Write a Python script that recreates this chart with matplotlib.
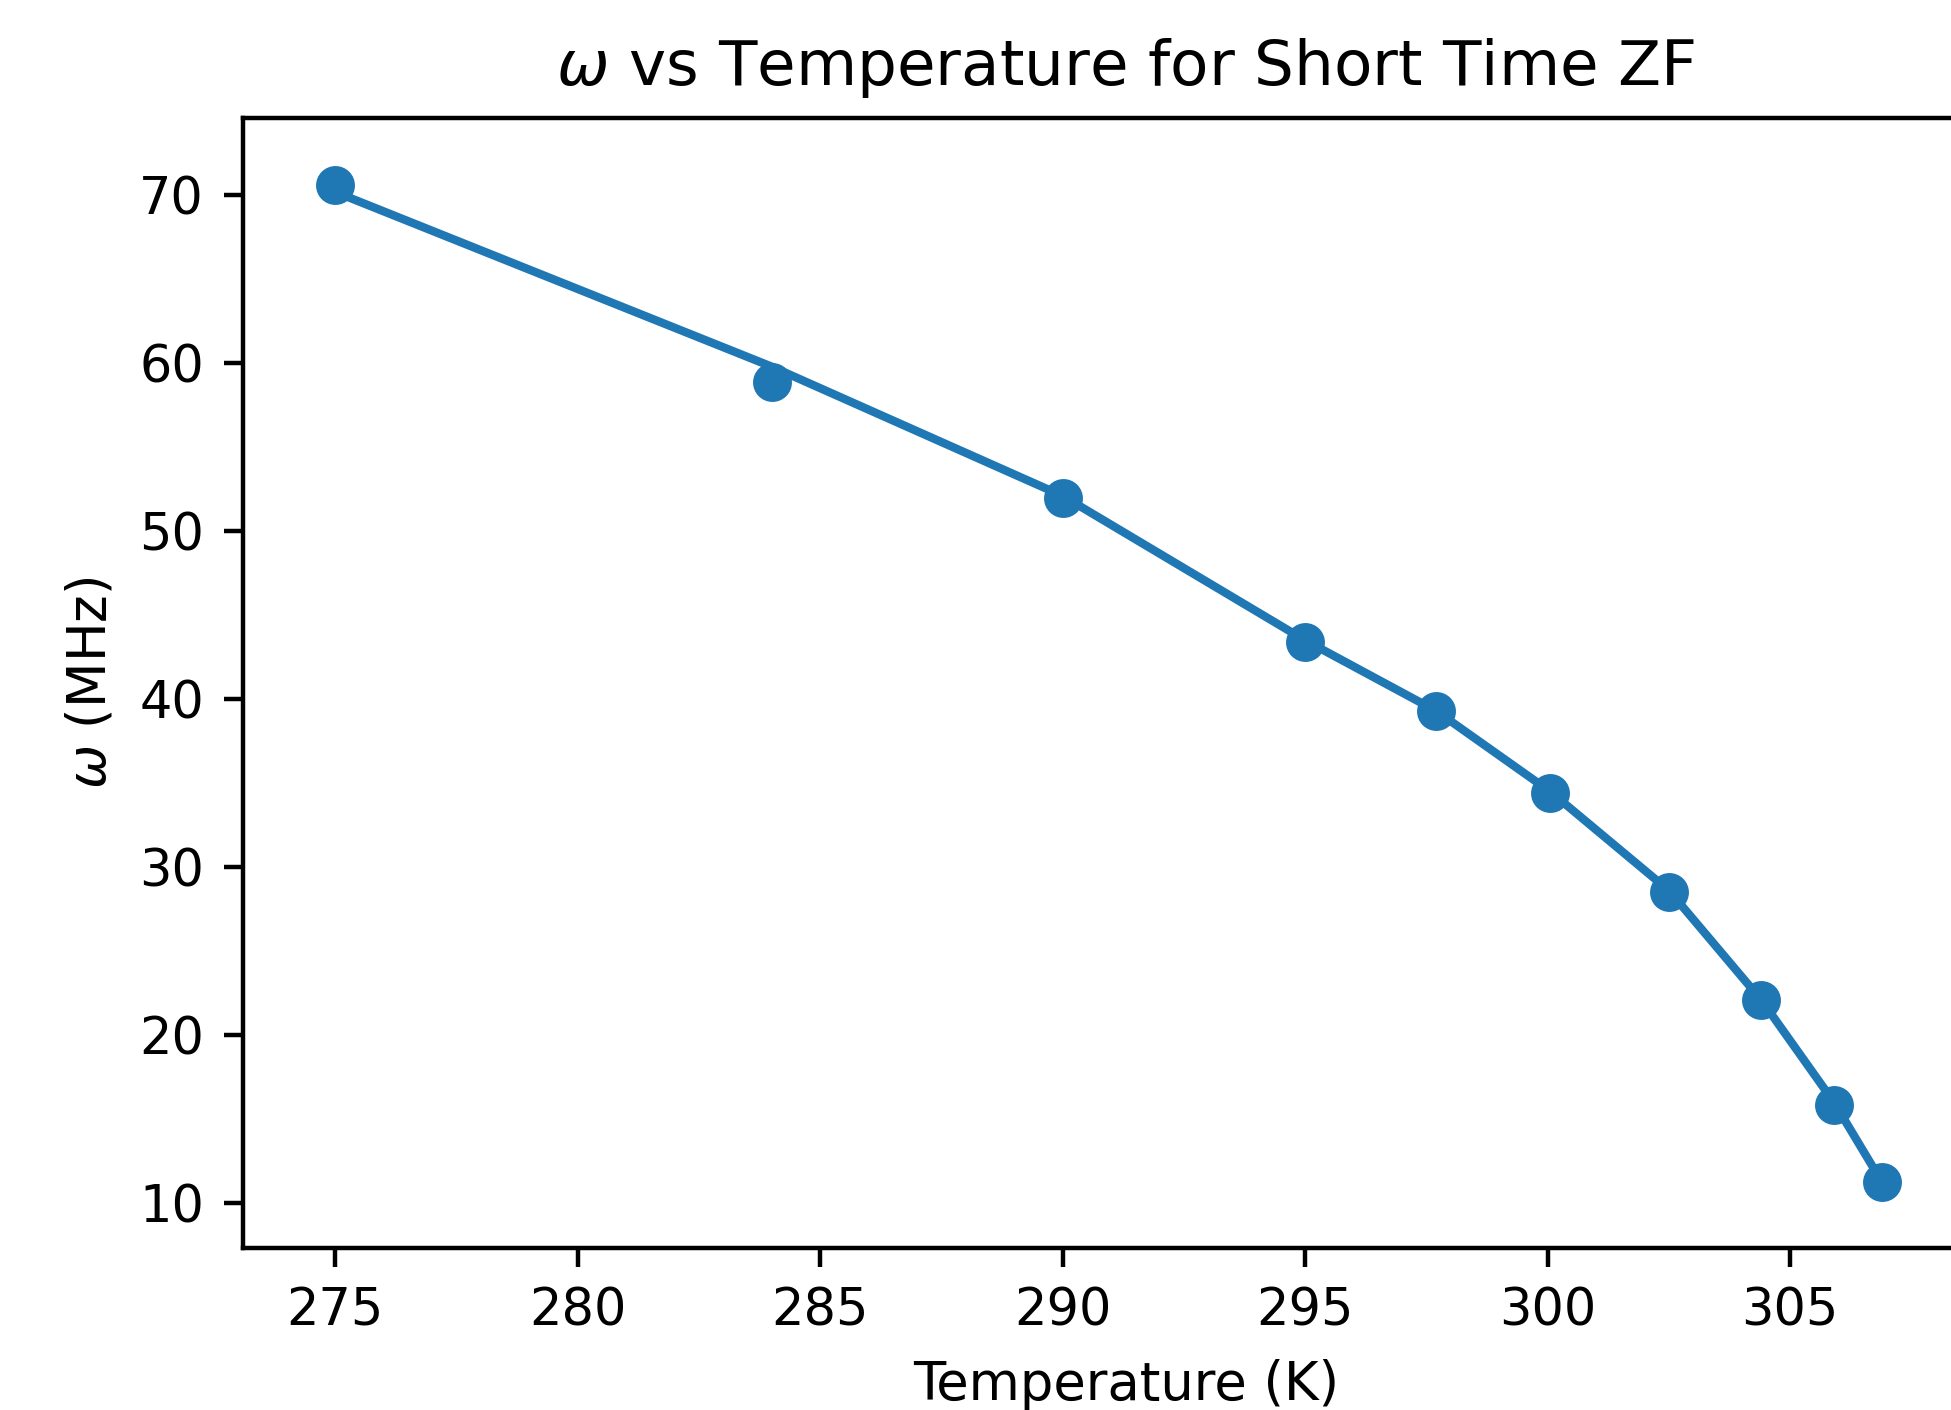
import numpy as np
import matplotlib
matplotlib.use("Agg")
import matplotlib.pyplot as plt

# measured points
temperature = [275.0, 284.0, 290.0, 295.0, 297.7, 300.05, 302.5, 304.4, 305.9, 306.9]
omega = [70.6, 58.9, 52.0, 43.4, 39.3, 34.4, 28.5, 22.1, 15.85, 11.25]

# fitted curve evaluated at the same temperatures
omega_fit = [70.2, 59.8, 52.1, 43.5, 39.3, 34.5, 28.6, 22.1, 16.0, 11.2]

fig = plt.figure(figsize=(1951 / 400, 1410 / 400), dpi=400)
ax = fig.add_axes([0.1245, 0.1149, 0.905, 0.8014])

ax.plot(temperature, omega_fit, color="C0")
ax.scatter(temperature, omega, color="C0")

ax.set_xlim(273.1, 309.5)
ax.set_ylim(7.32, 74.6)
ax.set_xticks([275, 280, 285, 290, 295, 300, 305])
ax.set_yticks([10, 20, 30, 40, 50, 60, 70])
ax.tick_params(labelsize=9.2)

ax.set_title(r"$\omega$ vs Temperature for Short Time ZF", fontsize=11.3)
ax.set_xlabel("Temperature (K)", fontsize=9.5)
ax.set_ylabel(r"$\omega$ (MHz)", fontsize=9.5)

fig.savefig("out.png", dpi=400)
